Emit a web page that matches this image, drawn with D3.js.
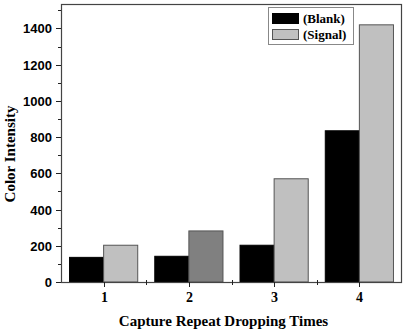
<!DOCTYPE html>
<html>
<head>
<meta charset="utf-8">
<script src="https://cdn.jsdelivr.net/npm/d3@7"></script>
<style>
  html,body{margin:0;padding:0;background:#fff;}
  svg{display:block;}
  .tick-y{font:bold 13px "Liberation Sans",Arial,sans-serif;fill:#000;}
  .tick-x{font:bold 14px "Liberation Serif","Times New Roman",serif;fill:#000;}
  .title{font:bold 15px "Liberation Serif","Times New Roman",serif;fill:#000;}
  .leg{font:bold 13px "Liberation Serif","Times New Roman",serif;fill:#000;}
</style>
</head>
<body>
<div id="chart"></div>
<script>
// values
var categories=["1","2","3","4"];
var blank=[136,142,203,835];
var signal=[203,282,570,1420];
var signalFill=["#c0c0c0","#808080","#c0c0c0","#c0c0c0"];
var yTicks=[0,200,400,600,800,1000,1200,1400];

var W=407,H=332;
var m={left:61,right:5,top:4,bottom:50};
var svg=d3.select("#chart").append("svg").attr("width",W).attr("height",H);

var x=d3.scaleBand().domain(categories).range([m.left,W-m.right]).paddingInner(0).paddingOuter(0);
var y=d3.scaleLinear().domain([0,1535]).range([H-m.bottom,m.top]);
var bw=x.bandwidth()*0.4;

var g=svg.append("g");
// bars
g.selectAll("rect.blank").data(blank).enter().append("rect")
  .attr("x",function(d,i){return x(categories[i])+x.bandwidth()/2-bw;})
  .attr("y",function(d){return y(d);})
  .attr("width",bw).attr("height",function(d){return y(0)-y(d);})
  .attr("fill","#000").attr("stroke","#000").attr("stroke-width",1);
g.selectAll("rect.signal").data(signal).enter().append("rect")
  .attr("x",function(d,i){return x(categories[i])+x.bandwidth()/2;})
  .attr("y",function(d){return y(d);})
  .attr("width",bw).attr("height",function(d){return y(0)-y(d);})
  .attr("fill",function(d,i){return signalFill[i];}).attr("stroke","#555").attr("stroke-width",1);

// frame
svg.append("rect").attr("x",m.left+0.5).attr("y",m.top+0.5)
  .attr("width",W-m.right-m.left-1).attr("height",y(0)-m.top)
  .attr("fill","none").attr("stroke","#444").attr("stroke-width",1.2);

// y axis ticks
var ya=svg.append("g");
d3.range(0,1501,100).forEach(function(v){
  var major=v%200===0;
  ya.append("line").attr("x1",m.left-(major?5:3)).attr("x2",m.left)
    .attr("y1",Math.round(y(v))+0.5).attr("y2",Math.round(y(v))+0.5).attr("stroke","#222");
});
ya.selectAll("text").data(yTicks).enter().append("text").attr("class","tick-y")
  .attr("x",m.left-9).attr("y",function(d){return y(d)+5;}).attr("text-anchor","end").text(function(d){return d;});

// x axis ticks
var xa=svg.append("g");
categories.forEach(function(c){
  var cx=Math.round(x(c)+x.bandwidth()/2)+0.5;
  xa.append("line").attr("x1",cx).attr("x2",cx).attr("y1",y(0)).attr("y2",y(0)+5).attr("stroke","#222");
  xa.append("text").attr("class","tick-x").attr("x",cx).attr("y",302).attr("text-anchor","middle").text(c);
});
categories.slice(1).forEach(function(c){
  var bx=Math.round(x(c))+0.5;
  xa.append("line").attr("x1",bx).attr("x2",bx).attr("y1",y(0)-2).attr("y2",y(0)+3).attr("stroke","#222");
});

// titles
svg.append("text").attr("class","title").attr("text-anchor","middle")
  .attr("transform","translate(15,154) rotate(-90)").text("Color Intensity");
svg.append("text").attr("class","title").attr("text-anchor","middle")
  .attr("x",223.5).attr("y",326).text("Capture Repeat Dropping Times");

// legend
var lg=svg.append("g").attr("transform","translate(268,7)");
lg.append("rect").attr("x",0.5).attr("y",0.5).attr("width",85).attr("height",37)
  .attr("fill","#fff").attr("stroke","#888");
var items=[{label:"(Blank)",fill:"#000",stroke:"#000"},{label:"(Signal)",fill:"#c0c0c0",stroke:"#555"}];
items.forEach(function(it,i){
  lg.append("rect").attr("x",4.5).attr("y",6.5+i*16).attr("width",26).attr("height",10)
    .attr("fill",it.fill).attr("stroke",it.stroke);
  lg.append("text").attr("class","leg").attr("x",35).attr("y",16+i*16).text(it.label);
});
</script>
</body>
</html>
